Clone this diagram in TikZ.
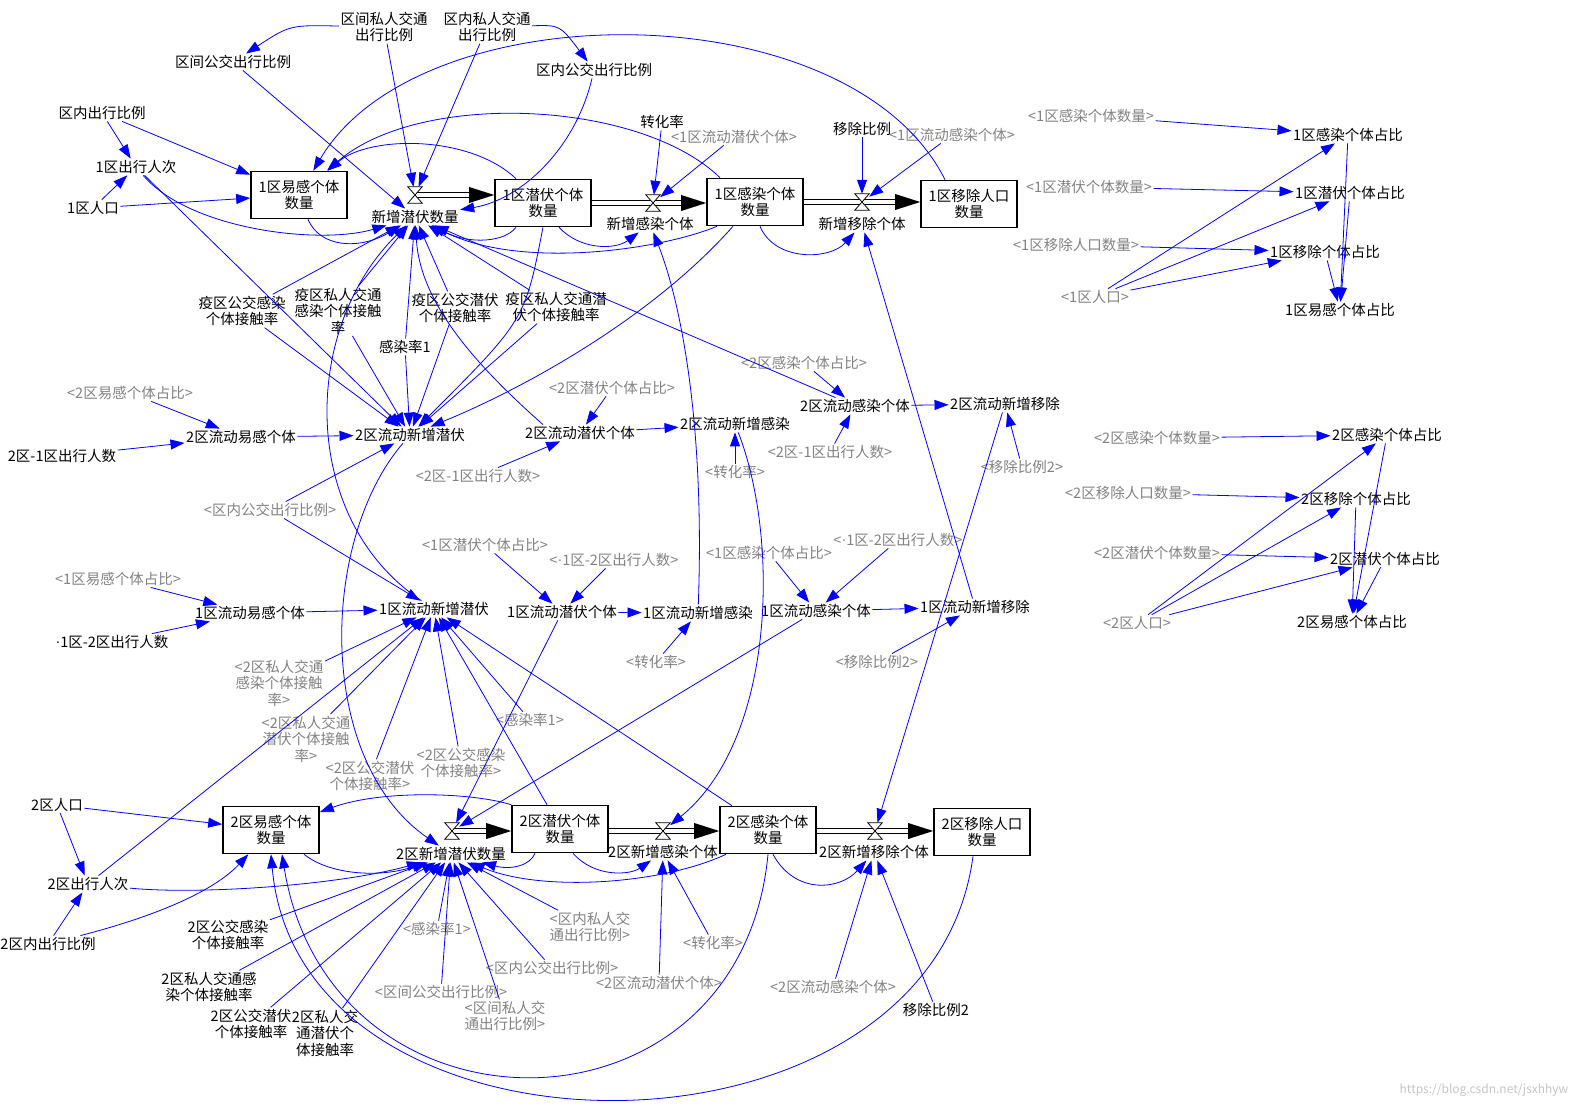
\documentclass[tikz,border=0pt]{standalone}
\usepackage{fontspec}
\setmainfont{Noto Sans CJK SC}
\newfontfamily\latf{Liberation Serif}
\usetikzlibrary{arrows.meta,calc}
\definecolor{shg}{RGB}{130,130,130}
\newcommand\valvedraw[1]{\draw[fill=white, line width=0.8pt] (#1.north west) -- (#1.north east) -- (#1.south west) -- (#1.south east) -- cycle;}
\newcommand\pipehead[1]{\fill (#1) -- ++(-25,-8) -- ++(0,16) -- cycle;}
\newcommand\mdot{{\latf ·}}
\begin{document}
\begin{tikzpicture}[x=1pt,y=-1pt,
  every node/.style={font=\fontsize{14.5}{16.5}\selectfont, inner sep=1.5pt, align=center},
  vv/.style={text=black},
  shd/.style={text=shg},
  stockbox/.style={draw, line width=1.6pt, minimum width=96pt, minimum height=47pt, fill=white, inner sep=2pt},
  valvebox/.style={minimum width=14pt, minimum height=16pt, inner sep=0pt},
  lnk/.style={draw=blue, line width=0.8pt, -{Triangle[length=14pt,width=10pt]}, blue},
  pipeline/.style={draw=black, line width=1.1pt, double=white, double distance=3.2pt},
]
\fill[white] (0,0) rectangle (1593,1107);
\useasboundingbox (0,0) rectangle (1593,1107);

% ---------- top ----------
\node[vv] (qjsr) at (384,27) {区间私人交通\\出行比例};
\node[vv] (qnsr) at (487,27) {区内私人交通\\出行比例};
\node[vv] (qjgj) at (233,62) {区间公交出行比例};
\node[vv] (qngj) at (594,70) {区内公交出行比例};
\node[vv] (qncx) at (102,113) {区内出行比例};
\node[vv] (cx1) at (136,167) {1区出行人次};
\node[vv] (rk1) at (93,208) {1区人口};
\node[stockbox] (S1) at (299,195) {1区易感个体\\数量};
\node[vv] (F1) at (415,217) {新增潜伏数量};
\node[valvebox] (V1) at (415,195) {};
\node[stockbox] (E1) at (543,203) {1区潜伏个体\\数量};
\node[vv] (F2) at (650,224) {新增感染个体};
\node[valvebox] (V2) at (653,203) {};
\node[vv] (zhl) at (662,122) {转化率};
\node[shd] (shlqf1) at (734,137) {<1区流动潜伏个体>};
\node[stockbox] (I1) at (755,202) {1区感染个体\\数量};
\node[vv] (ycbl) at (862,129) {移除比例};
\node[shd] (shlgr1) at (952,135) {<1区流动感染个体>};
\node[vv] (F3) at (862,224) {新增移除个体};
\node[valvebox] (V3) at (862,202) {};
\node[stockbox] (R1) at (969,204) {1区移除人口\\数量};

% ---------- right zone 1 ----------
\node[shd] (sh1grsl) at (1091,116) {<1区感染个体数量>};
\node[vv] (R1gr) at (1348,135) {1区感染个体占比};
\node[shd] (sh1qfsl) at (1089,187) {<1区潜伏个体数量>};
\node[vv] (R1qf) at (1350,193) {1区潜伏个体占比};
\node[shd] (sh1ycsl) at (1076,245) {<1区移除人口数量>};
\node[vv] (R1yc) at (1325,252) {1区移除个体占比};
\node[shd] (sh1rk) at (1095,297) {<1区人口>};
\node[vv] (R1yz) at (1340,310) {1区易感个体占比};

% ---------- middle ----------
\node[vv] (yq1) at (242,311) {疫区公交感染\\个体接触率};
\node[vv] (yq2) at (338,311) {疫区私人交通\\感染个体接触\\率};
\node[vv] (yq3) at (455,308) {疫区公交潜伏\\个体接触率};
\node[vv] (yq4) at (556,307) {疫区私人交通潜\\伏个体接触率};
\node[vv] (gr1) at (405,347) {感染率1};
\node[shd] (sh2grzb) at (804,363) {<2区感染个体占比>};
\node[shd] (sh2qfzb) at (612,388) {<2区潜伏个体占比>};
\node[shd] (sh2ygzb) at (130,393) {<2区易感个体占比>};
\node[vv] (L2gi) at (855,406) {2区流动感染个体};
\node[vv] (L2yc) at (1005,404) {2区流动新增移除};
\node[vv] (L2gr) at (735,424) {2区流动新增感染};
\node[vv] (L2qf) at (580,433) {2区流动潜伏个体};
\node[vv] (L2yg) at (241,437) {2区流动易感个体};
\node[vv] (L2xq) at (410,435) {2区流动新增潜伏};
\node[vv] (c21) at (62,456) {2区-1区出行人数};
\node[shd] (sh21a) at (830,452) {<2区-1区出行人数>};
\node[shd] (sh21b) at (478,476) {<2区-1区出行人数>};
\node[shd] (shyc2a) at (1022,467) {<移除比例2>};
\node[shd] (shzh1) at (735,472) {<转化率>};
\node[shd] (shqngj1) at (270,510) {<区内公交出行比例>};
\node[shd] (sh1qfzb) at (485,545) {<1区潜伏个体占比>};
\node[shd] (sh12a) at (614,560) {<\mdot 1区-2区出行人数>};
\node[shd] (sh1grzb) at (769,553) {<1区感染个体占比>};
\node[shd] (sh12b) at (898,540) {<\mdot 1区-2区出行人数>};
\node[shd] (sh1ygzb) at (118,579) {<1区易感个体占比>};
\node[vv] (L1yg) at (250,613) {1区流动易感个体};
\node[vv] (L1xq) at (434,609) {1区流动新增潜伏};
\node[vv] (L1qf) at (562,612) {1区流动潜伏个体};
\node[vv] (L1gr) at (698,613) {1区流动新增感染};
\node[vv] (L1gi) at (816,611) {1区流动感染个体};
\node[vv] (L1yc) at (975,607) {1区流动新增移除};
\node[vv] (c12) at (112,642) {\mdot 1区-2区出行人数};
\node[shd] (shzh2) at (656,662) {<转化率>};
\node[shd] (shyc2b) at (877,662) {<移除比例2>};
\node[shd] (sh2srgr) at (279,683) {<2区私人交通\\感染个体接触\\率>};
\node[shd] (shgr1a) at (530,720) {<感染率1>};
\node[shd] (sh2srqf) at (306,739) {<2区私人交通\\潜伏个体接触\\率>};
\node[shd] (sh2gjqf) at (370,776) {<2区公交潜伏\\个体接触率>};
\node[shd] (sh2gjgr) at (461,763) {<2区公交感染\\个体接触率>};

% ---------- right zone 2 ----------
\node[shd] (sh2grsl) at (1157,438) {<2区感染个体数量>};
\node[vv] (R2gr) at (1387,435) {2区感染个体占比};
\node[shd] (sh2ycsl) at (1128,493) {<2区移除人口数量>};
\node[vv] (R2yc) at (1356,499) {2区移除个体占比};
\node[shd] (sh2qfsl) at (1157,553) {<2区潜伏个体数量>};
\node[vv] (R2qf) at (1385,559) {2区潜伏个体占比};
\node[shd] (sh2rk) at (1137,623) {<2区人口>};
\node[vv] (R2yz) at (1352,622) {2区易感个体占比};

% ---------- bottom ----------
\node[vv] (rk2) at (57,805) {2区人口};
\node[stockbox] (S2) at (271,830) {2区易感个体\\数量};
\node[vv] (F4) at (451,854) {2区新增潜伏数量};
\node[valvebox] (V4) at (452,831) {};
\node[stockbox] (E2) at (560,829) {2区潜伏个体\\数量};
\node[vv] (F5) at (663,852) {2区新增感染个体};
\node[valvebox] (V5) at (663,831) {};
\node[stockbox] (I2) at (768,830) {2区感染个体\\数量};
\node[vv] (F6) at (874,852) {2区新增移除个体};
\node[valvebox] (V6) at (875,831) {};
\node[stockbox] (R2) at (982,832) {2区移除人口\\数量};
\node[vv] (cx2) at (88,884) {2区出行人次};
\node[vv] (nc2) at (48,944) {2区内出行比例};
\node[vv] (b1) at (228,935) {2区公交感染\\个体接触率};
\node[vv] (b2) at (209,987) {2区私人交通感\\染个体接触率};
\node[vv] (b3) at (251,1024) {2区公交潜伏\\个体接触率};
\node[vv] (b4) at (325,1033) {2区私人交\\通潜伏个\\体接触率};
\node[shd] (shgr1b) at (437,929) {<感染率1>};
\node[shd] (shqjgj) at (441,992) {<区间公交出行比例>};
\node[shd] (shqjsr) at (505,1016) {<区间私人交\\通出行比例>};
\node[shd] (shqngj2) at (552,968) {<区内公交出行比例>};
\node[shd] (shqnsr) at (590,927) {<区内私人交\\通出行比例>};
\node[shd] (shzh3) at (713,943) {<转化率>};
\node[shd] (sh2lqf) at (659,983) {<2区流动潜伏个体>};
\node[shd] (sh2lgr) at (833,987) {<2区流动感染个体>};
\node[vv] (ycb2) at (936,1010) {移除比例2};
\node[text=gray!45, font=\fontsize{12}{14}\selectfont] (wm) at (1484,1090) {https://blog.csdn.net/jsxhhyw};

% ---------- pipes ----------
\draw[pipeline] (V1.center) -- ($(E1.west |- V1)+(-22pt,0)$);
\pipehead{E1.west |- V1}
\draw[pipeline] (E1.east |- V2) -- ($(I1.west |- V2)+(-22pt,0)$);
\pipehead{I1.west |- V2}
\draw[pipeline] (I1.east |- V3) -- ($(R1.west |- V3)+(-22pt,0)$);
\pipehead{R1.west |- V3}
\draw[pipeline] (V4.center) -- ($(E2.west |- V4)+(-22pt,0)$);
\pipehead{E2.west |- V4}
\draw[pipeline] (E2.east |- V5) -- ($(I2.west |- V5)+(-22pt,0)$);
\pipehead{I2.west |- V5}
\draw[pipeline] (I2.east |- V6) -- ($(R2.west |- V6)+(-22pt,0)$);
\pipehead{R2.west |- V6}
\valvedraw{V1}\valvedraw{V2}\valvedraw{V3}\valvedraw{V4}\valvedraw{V5}\valvedraw{V6}

% ---------- links top ----------
\draw[lnk] (qjsr) .. controls (290,25) .. (qjgj);
\draw[lnk] (qnsr) .. controls (560,25) .. (qngj);
\draw[lnk] (qjsr) -- (V1);
\draw[lnk] (qnsr) -- (V1);
\draw[lnk] (qjgj) -- (F1);
\draw[lnk] (qngj) .. controls (575,150) and (520,200) .. (F1);
\draw[lnk] (qncx) -- (cx1);
\draw[lnk] (qncx) -- (S1);
\draw[lnk] (rk1) -- (cx1);
\draw[lnk] (rk1) -- (S1);
\draw[lnk] (cx1) .. controls (190,230) and (320,245) .. (F1);
\draw[lnk] (cx1) -- (L2xq);
\draw[lnk] ([xshift=9pt]S1.south) .. controls (320,248) and (360,250) .. (F1);
\draw[lnk] ([xshift=-27pt]E1.north) .. controls (470,135) and (370,135) .. (S1);
\draw[lnk] ([xshift=-35pt]I1.north) .. controls (640,100) and (420,90) .. (S1);
\draw[lnk] ([xshift=-24pt]R1.north) .. controls (850,-10) and (420,-10) .. (S1);
\draw[lnk] ([xshift=-27pt]E1.south) .. controls (505,242) and (470,245) .. (F1);
\draw[lnk] ([xshift=-38pt]I1.south) .. controls (660,250) and (520,270) .. (F1);
\draw[lnk] ([xshift=16pt]E1.south) .. controls (580,250) and (615,250) .. (F2);
\draw[lnk] ([xshift=5pt]I1.south) .. controls (775,262) and (830,260) .. (F3);
\draw[lnk] (zhl) -- (V2);
\draw[lnk] (shlqf1) -- (V2);
\draw[lnk] (ycbl) -- (V3);
\draw[lnk] (shlgr1) -- (V3);
\foreach \n in {yq1,yq2,yq3,yq4,gr1} {\draw[lnk] (\n) -- (F1); \draw[lnk] (\n) -- (L2xq);}
\draw[lnk] (E1.south) .. controls (525,320) .. (L2xq);
\draw[lnk] ([xshift=-22pt]I1.south) .. controls (650,320) and (520,390) .. (L2xq);
\draw[lnk] (L2gi) -- (F1);
\draw[lnk] ([xshift=-37pt]L2qf.north) .. controls (470,360) and (420,300) .. (F1);
\draw[lnk] (L1xq) .. controls (300,520) and (300,330) .. (F1);
\draw[lnk] (L2xq) .. controls (320,540) and (315,760) .. (F4);

% ---------- links middle ----------
\draw[lnk] (sh2ygzb) -- (L2yg);
\draw[lnk] (c21) -- (L2yg);
\draw[lnk] (L2yg) -- (L2xq);
\draw[lnk] (shqngj1) -- (L2xq);
\draw[lnk] (shqngj1) -- (L1xq);
\draw[lnk] (sh1ygzb) -- (L1yg);
\draw[lnk] (c12) -- (L1yg);
\draw[lnk] (L1yg) -- (L1xq);
\draw[lnk] (sh2qfzb) -- (L2qf);
\draw[lnk] (sh21b) -- (L2qf);
\draw[lnk] (L2qf) -- (L2gr);
\draw[lnk] (shzh1) -- (L2gr);
\draw[lnk] (sh2grzb) -- (L2gi);
\draw[lnk] (sh21a) -- (L2gi);
\draw[lnk] (L2gi) -- (L2yc);
\draw[lnk] (shyc2a) -- (L2yc);
\draw[lnk] (L2gr) .. controls (780,540) and (775,740) .. (V5);
\draw[lnk] (L2yc) -- (V6);
\draw[lnk] (L1gr) .. controls (705,420) and (680,300) .. (F2);
\draw[lnk] (L1yc) -- (F3);
\draw[lnk] (sh1qfzb) -- (L1qf);
\draw[lnk] (sh12a) -- (L1qf);
\draw[lnk] (L1qf) -- (L1gr);
\draw[lnk] (shzh2) -- (L1gr);
\draw[lnk] (sh1grzb) -- (L1gi);
\draw[lnk] (sh12b) -- (L1gi);
\draw[lnk] (L1gi) -- (L1yc);
\draw[lnk] (shyc2b) -- (L1yc);
\draw[lnk] (L1qf) -- (V4);
\draw[lnk] (L1gi) -- (V4);
\draw[lnk] ([xshift=-36pt]I2.north) -- (L1xq);
\draw[lnk] ([xshift=-13pt]E2.north) -- (L1xq);
\draw[lnk] (cx2) -- (L1xq);
\foreach \n in {sh2srgr,sh2srqf,sh2gjqf,sh2gjgr,shgr1a} {\draw[lnk] (\n) -- (L1xq);}

% ---------- links right ----------
\draw[lnk] (sh1grsl) -- (R1gr);
\draw[lnk] (sh1qfsl) -- (R1qf);
\draw[lnk] (sh1ycsl) -- (R1yc);
\draw[lnk] (sh1rk) -- (R1gr);
\draw[lnk] (sh1rk) -- (R1qf);
\draw[lnk] (sh1rk) -- (R1yc);
\draw[lnk] (R1gr) -- (R1yz);
\draw[lnk] (R1qf) -- (R1yz);
\draw[lnk] (R1yc) -- (R1yz);
\draw[lnk] (sh2grsl) -- (R2gr);
\draw[lnk] (sh2ycsl) -- (R2yc);
\draw[lnk] (sh2qfsl) -- (R2qf);
\draw[lnk] (sh2rk) -- (R2gr);
\draw[lnk] (sh2rk) -- (R2yc);
\draw[lnk] (sh2rk) -- (R2qf);
\draw[lnk] (R2gr) -- (R2yz);
\draw[lnk] (R2yc) -- (R2yz);
\draw[lnk] (R2qf) -- (R2yz);

% ---------- links bottom ----------
\draw[lnk] (rk2) -- (S2);
\draw[lnk] (rk2) -- (cx2);
\draw[lnk] (nc2) -- (cx2);
\draw[lnk] (nc2) .. controls (160,915) and (215,890) .. (S2);
\draw[lnk] (cx2) .. controls (200,895) and (340,885) .. (F4);
\draw[lnk] ([xshift=33pt]S2.south) .. controls (330,875) and (380,878) .. (F4);
\draw[lnk] (E2.north west) .. controls (470,792) and (380,790) .. (S2);
\draw[lnk] ([xshift=-25pt]E2.south) .. controls (530,866) and (510,870) .. (F4);
\draw[lnk] ([xshift=-42pt]I2.south) .. controls (660,885) and (540,892) .. (F4);
\draw[lnk] ([xshift=13pt]E2.south) .. controls (595,878) and (630,875) .. (F5);
\draw[lnk] (sh2lqf) -- (F5);
\draw[lnk] (shzh3) -- (F5);
\draw[lnk] ([xshift=5pt]I2.south) .. controls (795,895) and (840,890) .. (F6);
\draw[lnk] (sh2lgr) -- (F6);
\draw[lnk] (ycb2) -- (F6);
\draw[lnk] (I2.south) .. controls (740,1150) and (330,1150) .. ([xshift=11pt]S2.south);
\draw[lnk] ([xshift=-9pt]R2.south) .. controls (930,1180) and (300,1180) .. (S2.south);
\foreach \n in {b1,b2,b3,b4,shgr1b,shqjgj,shqjsr,shqngj2,shqnsr} {\draw[lnk] (\n) -- (F4);}
\end{tikzpicture}
\end{document}
